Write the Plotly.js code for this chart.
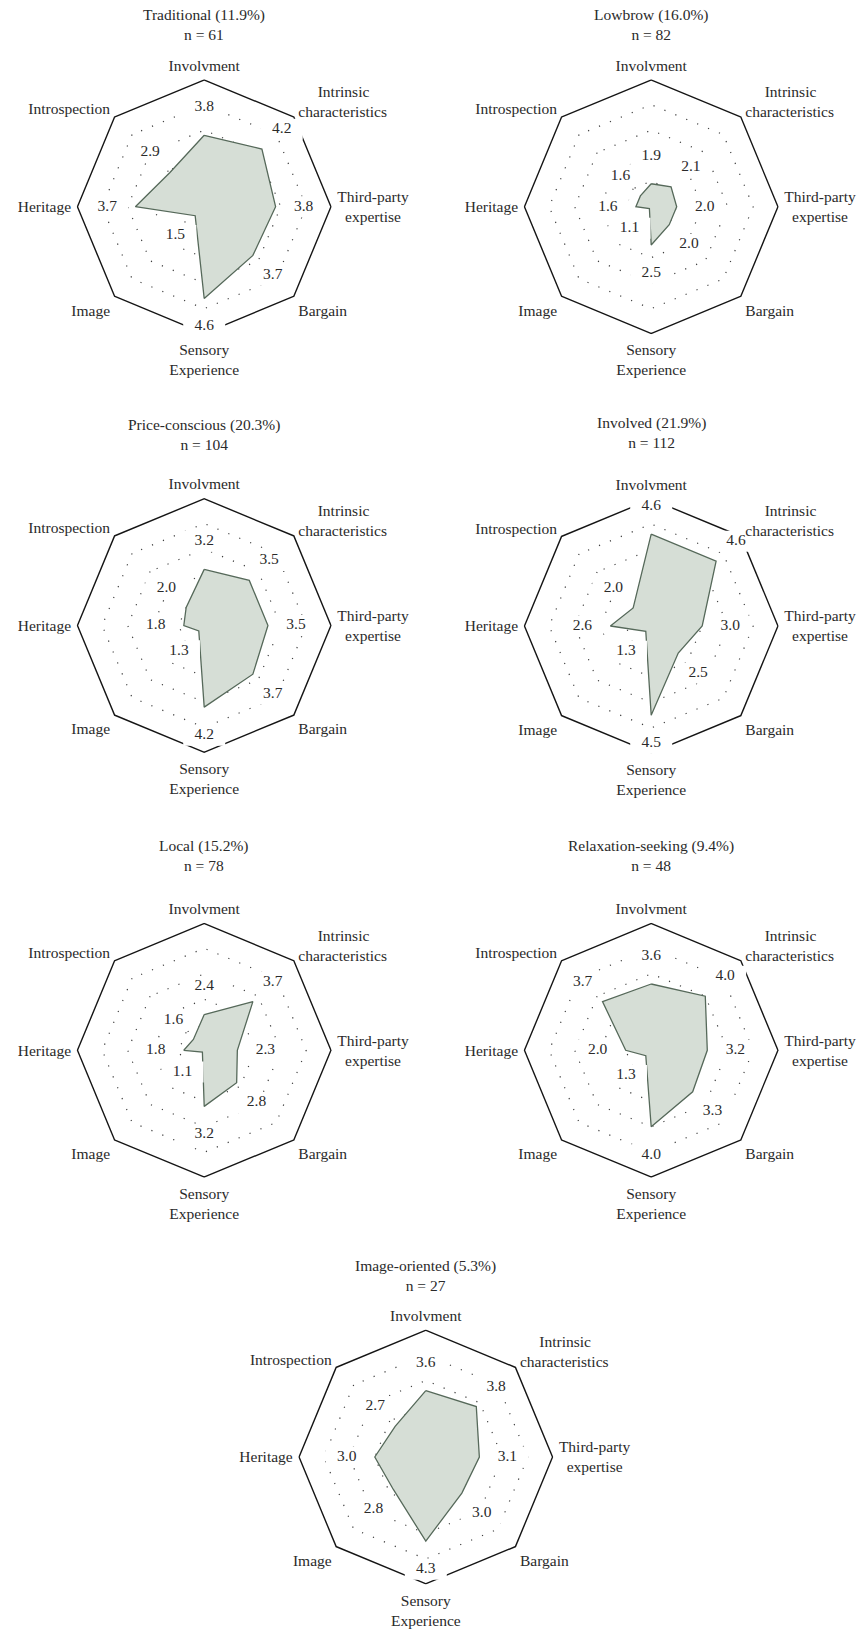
<!DOCTYPE html>
<html>
<head>
<meta charset="utf-8">
<script src="https://cdn.plot.ly/plotly-3.0.1.min.js"></script>
<style>html,body{margin:0;padding:0;background:#fff;}</style>
</head>
<body>
<div id="chart" style="width:864px;height:1630px;"></div>
<script>
// ---- Data ----
const categories = ['Involvment', 'Intrinsic characteristics', 'Third-party expertise', 'Bargain',
  'Sensory Experience', 'Image', 'Heritage', 'Introspection'];
const NB = '\u00a0';
const tickLabels = ['Involvment', NB.repeat(5) + 'Intrinsic<br>characteristics', 'Third-party<br>' + NB.repeat(2) + 'expertise', 'Bargain',
  'Sensory<br>Experience', 'Image', 'Heritage', 'Introspection'];

const clusterNames = ['Traditional', 'Lowbrow', 'Price-conscious', 'Involved', 'Local', 'Relaxation-seeking', 'Image-oriented'];
const clusterShares = ['11.9%', '16.0%', '20.3%', '21.9%', '15.2%', '9.4%', '5.3%'];
const clusterN = [61, 82, 104, 112, 78, 48, 27];

const traditional = [3.8, 4.2, 3.8, 3.7, 4.6, 1.5, 3.7, 2.9];
const lowbrow = [1.9, 2.1, 2.0, 2.0, 2.5, 1.1, 1.6, 1.6];
const priceConscious = [3.2, 3.5, 3.5, 3.7, 4.2, 1.3, 1.8, 2.0];
const involved = [4.6, 4.6, 3.0, 2.5, 4.5, 1.3, 2.6, 2.0];
const local = [2.4, 3.7, 2.3, 2.8, 3.2, 1.1, 1.8, 1.6];
const relaxationSeeking = [3.6, 4.0, 3.2, 3.3, 4.0, 1.3, 2.0, 3.7];
const imageOriented = [3.6, 3.8, 3.1, 3.0, 4.3, 2.8, 3.0, 2.7];

const clusterValues = [traditional, lowbrow, priceConscious, involved, local, relaxationSeeking, imageOriented];

// ---- Layout constants (pixels) ----
const W = 864, H = 1630, R = 127.5;
const centers = [[204.2, 206.7], [651.2, 206.7], [204.2, 625.5], [651.2, 626], [204.2, 1050.3], [651.2, 1050.3], [425.8, 1457]];
const titleY = [24, 24, 434, 432, 855, 855, 1275];
const radialRange = [1, 6];
const labelOffset = 1.1;

const FONT = 'Liberation Serif, Times New Roman, serif';
const TXT = '#2a2a2a';

const traces = [];
const layout = {
  width: W, height: H,
  margin: {l: 0, r: 0, t: 0, b: 0},
  paper_bgcolor: '#fff',
  showlegend: false,
  font: {family: FONT, size: 15.5, color: TXT},
  annotations: []
};

clusterValues.forEach((vals, i) => {
  const key = i === 0 ? 'polar' : 'polar' + (i + 1);
  const [cx, cy] = centers[i];
  layout[key] = {
    domain: {
      x: [(cx - R) / W, (cx + R) / W],
      y: [1 - (cy + R) / H, 1 - (cy - R) / H]
    },
    gridshape: 'linear',
    bgcolor: 'rgba(0,0,0,0)',
    radialaxis: {
      range: radialRange,
      tickmode: 'array',
      tickvals: [2, 3, 4, 5],
      showticklabels: false,
      ticks: '',
      showline: false,
      showgrid: true,
      gridcolor: '#404040',
      gridwidth: 1.2,
      griddash: '1.2px,10.6px',
      layer: 'below traces'
    },
    angularaxis: {
      type: 'category',
      categoryarray: categories,
      direction: 'clockwise',
      rotation: 90,
      tickmode: 'array',
      tickvals: categories,
      ticktext: tickLabels,
      ticks: 'outside',
      ticklen: 2,
      tickcolor: 'rgba(0,0,0,0)',
      showgrid: false,
      showline: false,
      tickfont: {family: FONT, size: 15.5, color: TXT}
    }
  };

  // data polygon
  traces.push({
    type: 'scatterpolar',
    subplot: key,
    r: vals.concat([vals[0]]),
    theta: categories.concat([categories[0]]),
    mode: 'lines',
    fill: 'toself',
    fillcolor: '#d6ded6',
    line: {color: '#56695a', width: 1.3},
    hoverinfo: 'skip'
  });

  // outer octagon frame at the top of the radial range (outer half is clipped)
  traces.push({
    type: 'scatterpolar',
    subplot: key,
    r: categories.map(() => radialRange[1]).concat([radialRange[1]]),
    theta: categories.concat([categories[0]]),
    mode: 'lines',
    line: {color: '#151515', width: 2.8},
    hoverinfo: 'skip',
    cliponaxis: false
  });

  // value labels with white box behind
  traces.push({
    type: 'scatterpolar',
    subplot: key,
    r: vals.map(v => v + labelOffset),
    theta: categories,
    mode: 'markers+text',
    marker: {symbol: 'line-ew', size: 30, color: '#ffffff', line: {width: 21, color: '#ffffff'}},
    text: vals.map(v => v.toFixed(1)),
    textposition: 'middle center',
    textfont: {family: FONT, size: 15.5, color: TXT},
    hoverinfo: 'skip',
    cliponaxis: false
  });

  layout.annotations.push({
    xref: 'paper', yref: 'paper',
    x: cx / W, y: 1 - titleY[i] / H,
    xanchor: 'center', yanchor: 'middle',
    showarrow: false,
    align: 'center',
    text: clusterNames[i] + ' (' + clusterShares[i] + ')<br>n = ' + clusterN[i],
    font: {family: FONT, size: 15.5, color: TXT}
  });
});

Plotly.newPlot('chart', traces, layout, {displayModeBar: false, staticPlot: true});
</script>
</body>
</html>
